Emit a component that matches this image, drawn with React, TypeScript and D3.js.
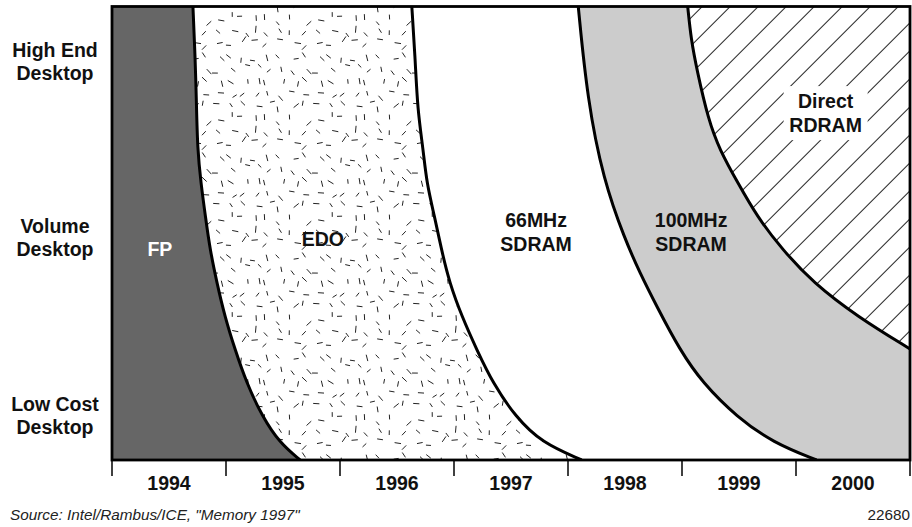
import React from 'react';
import * as d3 from 'd3';

// ---- data ----
const years = ['1994', '1995', '1996', '1997', '1998', '1999', '2000'];
const segmentLabels = [
  ['High End', 'Desktop'],
  ['Volume', 'Desktop'],
  ['Low Cost', 'Desktop'],
];
const segmentLevels = [88.0, 49.2, 10.0];

// boundaries between technologies: [year, market level 0 (low cost) .. 100 (high end)]
const fpEdo: [number, number][] = [
  [1994.21, 100], [1994.23, 88.3], [1994.24, 79.5], [1994.25, 68.4], [1994.28, 61.1],
  [1994.32, 53.6], [1994.36, 46.4], [1994.42, 39.1], [1994.49, 31.6], [1994.58, 24.3],
  [1994.68, 17.0], [1994.82, 9.5], [1994.97, 3.8], [1995.15, 0],
];
const edoSdram66: [number, number][] = [
  [1996.13, 100], [1996.16, 88.3], [1996.18, 77.3], [1996.23, 68.4], [1996.26, 61.1],
  [1996.33, 53.6], [1996.39, 46.4], [1996.46, 39.1], [1996.57, 31.6], [1996.70, 24.3],
  [1996.84, 17.0], [1997.04, 9.5], [1997.27, 3.8], [1997.62, 0],
];
const sdram66Sdram100: [number, number][] = [
  [1997.59, 100], [1997.67, 79.5], [1997.81, 61.8], [1998.0, 48.6], [1998.13, 41.3],
  [1998.28, 33.8], [1998.48, 24.3], [1998.68, 17.0], [1998.98, 9.5], [1999.3, 3.8],
  [1999.68, 0],
];
const sdram100Rdram: [number, number][] = [
  [1998.55, 100], [1998.58, 92.7], [1998.63, 86.1], [1998.73, 75.1], [1998.83, 68.4],
  [1998.99, 61.1], [1999.16, 53.6], [1999.38, 46.4], [1999.65, 39.1], [2000.04, 31.6],
  [2000.5, 24.5],
];

const techLabels = ['FP', 'EDO', '66MHz\nSDRAM', '100MHz\nSDRAM', 'Direct\nRDRAM'];
const techAnchors: [number, number][] = [
  [1993.92, 45.0], [1995.35, 47.2], [1997.22, 51.4], [1998.58, 51.4], [1999.76, 77.6],
];

const W = 912;
const H = 527;
const FONT = '"Liberation Sans", Arial, Helvetica, sans-serif';

function hash(n: number) {
  let t = (n * 2654435761) >>> 0;
  t ^= t >>> 15;
  t = Math.imul(t, 2246822519) >>> 0;
  t ^= t >>> 13;
  t = Math.imul(t, 3266489917) >>> 0;
  t ^= t >>> 16;
  return (t >>> 0) / 4294967296;
}

function edoTexture(tile: number, cell: number) {
  const segs: string[] = [];
  const n = Math.round(tile / cell);
  for (let i = 0; i < n; i++) {
    for (let j = 0; j < n; j++) {
      const k = i * 131 + j * 7 + 11;
      const cx = i * cell + cell / 2 + (hash(k) - 0.5) * cell * 0.75;
      const cy = j * cell + cell / 2 + (hash(k + 1000) - 0.5) * cell * 0.75;
      const ang = Math.floor(hash(k + 2000) * 4) * (Math.PI / 4) + (hash(k + 3000) - 0.5) * 0.5;
      const len = 4.5 + hash(k + 4000) * 2.5;
      const dx = (Math.cos(ang) * len) / 2;
      const dy = (Math.sin(ang) * len) / 2;
      for (const ox of [-tile, 0, tile]) {
        for (const oy of [-tile, 0, tile]) {
          segs.push(`M${(cx - dx + ox).toFixed(2)},${(cy - dy + oy).toFixed(2)}L${(cx + dx + ox).toFixed(2)},${(cy + dy + oy).toFixed(2)}`);
        }
      }
    }
  }
  return segs.join('');
}

export default function App() {
  const left = 112, right = 910, top = 6.5, bottom = 460;
  const x = d3.scaleLinear().domain([1993.5, 2000.5]).range([left, right]);
  const y = d3.scaleLinear().domain([0, 100]).range([bottom, top]);
  const line = d3
    .line<[number, number]>()
    .x((d) => x(d[0]))
    .y((d) => y(d[1]))
    .curve(d3.curveBasis);

  const rightOf = (pts: [number, number][]) => {
    const last = pts[pts.length - 1];
    let p = line(pts) as string;
    if (last[1] <= 0.001) p += `L${right},${bottom}`;
    p += `L${right},${top}Z`;
    return p;
  };

  const boundaries = [fpEdo, edoSdram66, sdram66Sdram100, sdram100Rdram];
  const fills = ['url(#edo)', '#ffffff', '#cccccc', 'url(#hatch)'];
  const tile = 100;
  const texture = edoTexture(tile, 12.5);
  const hs = 19.8;

  return (
    <svg
      width={W}
      height={H}
      style={{ position: 'absolute', left: 0, top: 0, background: '#fff' }}
      fontFamily={FONT}
    >
      <defs>
        <clipPath id="plot">
          <rect x={left} y={top} width={right - left} height={bottom - top} />
        </clipPath>
        <pattern id="edo" patternUnits="userSpaceOnUse" width={tile} height={tile}>
          <rect width={tile} height={tile} fill="#fff" />
          <path d={texture} stroke="#222" strokeWidth={1} fill="none" />
        </pattern>
        <pattern id="hatch" patternUnits="userSpaceOnUse" width={hs} height={40} patternTransform="translate(8,0) rotate(45)">
          <rect width={hs} height={40} fill="#fff" />
          <line x1={0.5} y1={0} x2={0.5} y2={40} stroke="#222" strokeWidth={1} />
        </pattern>
      </defs>

      <g clipPath="url(#plot)">
        <rect x={left} y={top} width={right - left} height={bottom - top} fill="#666666" />
        {boundaries.map((b, i) => (
          <path key={i} d={rightOf(b)} fill={fills[i]} />
        ))}
        {boundaries.map((b, i) => (
          <path key={'s' + i} d={line(b) as string} fill="none" stroke="#000" strokeWidth={3} />
        ))}
      </g>

      {/* white box behind Direct RDRAM */}
      <rect
        x={x(techAnchors[4][0]) - 42}
        y={y(techAnchors[4][1]) - 22}
        width={84}
        height={54}
        fill="#fff"
      />

      {/* frame */}
      <rect x={left} y={top} width={right - left} height={bottom - top} fill="none" stroke="#000" strokeWidth={2.8} />

      {/* x ticks */}
      {d3.range(years.length + 1).map((i) => (
        <line
          key={'t' + i}
          x1={x(1993.5 + i)}
          x2={x(1993.5 + i)}
          y1={bottom}
          y2={bottom + 16}
          stroke="#000"
          strokeWidth={1.5}
        />
      ))}
      {years.map((yr, i) => (
        <text
          key={yr}
          x={x(1994 + i)}
          y={490}
          textAnchor="middle"
          fontWeight="bold"
          fontSize={19.5}
          fill="#111"
        >
          {yr}
        </text>
      ))}

      {/* y labels */}
      {segmentLabels.map((lines, i) => (
        <text
          key={'y' + i}
          x={55}
          y={y(segmentLevels[i]) - 4}
          textAnchor="middle"
          fontWeight="bold"
          fontSize={19.5}
          fill="#111"
        >
          {lines.map((l, j) => (
            <tspan key={j} x={55} dy={j === 0 ? 0 : 23.5}>
              {l}
            </tspan>
          ))}
        </text>
      ))}

      {/* technology labels */}
      {techLabels.map((lab, i) => {
        const parts = lab.split('\n');
        const cx = x(techAnchors[i][0]);
        const cy = y(techAnchors[i][1]);
        return (
          <text
            key={'l' + i}
            x={cx}
            y={cy}
            textAnchor="middle"
            fontWeight="bold"
            fontSize={19.5}
            fill={i === 0 ? '#fff' : '#111'}
          >
            {parts.map((p, j) => (
              <tspan key={j} x={cx} dy={j === 0 ? 0 : 24}>
                {p}
              </tspan>
            ))}
          </text>
        );
      })}

      <text x={10} y={520} fontSize={15.3} fontStyle="italic" fill="#222">
        Source: Intel/Rambus/ICE, "Memory 1997"
      </text>
      <text x={right} y={520} fontSize={15.3} textAnchor="end" fill="#222">
        22680
      </text>
    </svg>
  );
}
